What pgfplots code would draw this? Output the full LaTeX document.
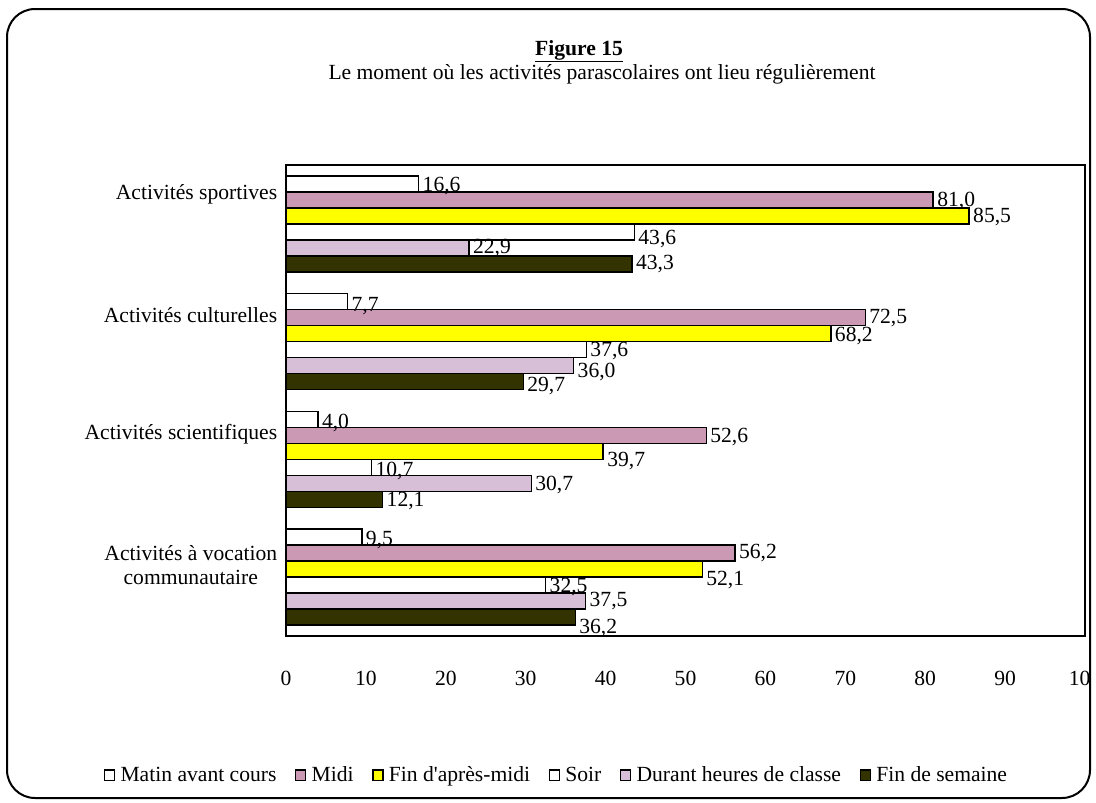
\documentclass[border=0pt]{standalone}
\usepackage{pgfplots}
\usepackage{pgfplotstable}
\pgfplotsset{compat=1.18}
\usepackage{fontspec}
\setmainfont{Liberation Serif}
\definecolor{midi}{RGB}{204,153,180}
\definecolor{jaune}{RGB}{255,255,0}
\definecolor{durant}{RGB}{216,191,216}
\definecolor{semaine}{RGB}{51,51,0}
% x = value, y = category index, dy = label offset (px, downward)
\pgfplotstableread{
x y dy
16.6 0 2
7.7 1 4
4.0 2 4
9.5 3 3
}\matin
\pgfplotstableread{
x y dy
81.0 0 1
72.5 1 0
52.6 2 2
56.2 3 0
}\midi
\pgfplotstableread{
x y dy
85.5 0 1
68.2 1 2
39.7 2 10
52.1 3 11
}\apresmidi
\pgfplotstableread{
x y dy
43.6 0 7
37.6 1 1
10.7 2 4
32.5 3 2
}\soir
\pgfplotstableread{
x y dy
22.9 0 0
36.0 1 6
30.7 2 2
37.5 3 0
}\durant
\pgfplotstableread{
x y dy
43.3 0 0
29.7 1 4
12.1 2 2
36.2 3 11
}\semaine
\begin{document}
\fontsize{16.2pt}{18.5pt}\selectfont
\begin{tikzpicture}
\path[use as bounding box] (0pt,0pt) rectangle (822pt,-602.25pt);
\draw[line width=1.5pt, rounded corners=21pt] (5.25pt,-6.75pt) rectangle (817.5pt,-598.5pt);
\node[anchor=base] at (434.25pt,-41.25pt) {\textbf{\underline{Figure 15}}};
\node[anchor=base] at (451.5pt,-59.25pt) {Le moment où les activités parascolaires ont lieu régulièrement};
\begin{axis}[
  at={(214.5pt,-477pt)}, anchor=south west,
  scale only axis, width=599.25pt, height=353.25pt,
  xbar, bar width=0.136,
  y dir=reverse, ymin=-0.5, ymax=3.5, xmin=0, xmax=100,
  xtick={0,10,20,30,40,50,60,70,80,90,100},
  xticklabels={0,10,20,30,40,50,60,70,80,90,10\phantom{0}},
  ytick={-0.254,0.774,1.784,2.897},
  yticklabels={Activités sportives,Activités culturelles,Activités scientifiques,{Activités à vocation\\communautaire}},
  yticklabel style={align=center, xshift=-1pt},
  xticklabel style={yshift=-21pt},
  major tick length=0pt,
  axis line style={line width=1.5pt},
  clip=false,
  /pgf/number format/assume math mode=true,
  visualization depends on={\thisrow{dy} \as \labdy},
  nodes near coords,
  nodes near coords style={anchor=west, inner xsep=2.5pt, inner ysep=0pt, black,
    yshift=-0.75*\labdy pt,
    /pgf/number format/.cd, fixed, fixed zerofill, precision=1, use comma, assume math mode=true},
  every axis plot/.append style={draw=black, line width=1.1pt},
  legend columns=6,
  legend style={draw=none, fill=none, at={(axis description cs:0.339,-0.297)}, anchor=center,
    /tikz/every odd column/.append style={column sep=2pt},
    /tikz/every even column/.append style={column sep=12pt}},
  legend image code/.code={\draw[#1, line width=0.9pt] (0pt,-3.5pt) rectangle (7.5pt,4.5pt);},
]
\addplot[fill=white, bar shift=-0.34] table[x=x,y=y] {\matin};
\addlegendentry{Matin avant cours}
\addplot[fill=midi, bar shift=-0.204] table[x=x,y=y] {\midi};
\addlegendentry{Midi}
\addplot[fill=jaune, bar shift=-0.068] table[x=x,y=y] {\apresmidi};
\addlegendentry{Fin d\textquotesingle après-midi}
\addplot[fill=white, bar shift=0.068] table[x=x,y=y] {\soir};
\addlegendentry{Soir}
\addplot[fill=durant, bar shift=0.204] table[x=x,y=y] {\durant};
\addlegendentry{Durant heures de classe}
\addplot[fill=semaine, bar shift=0.34] table[x=x,y=y] {\semaine};
\addlegendentry{Fin de semaine}
\end{axis}
\end{tikzpicture}
\end{document}
